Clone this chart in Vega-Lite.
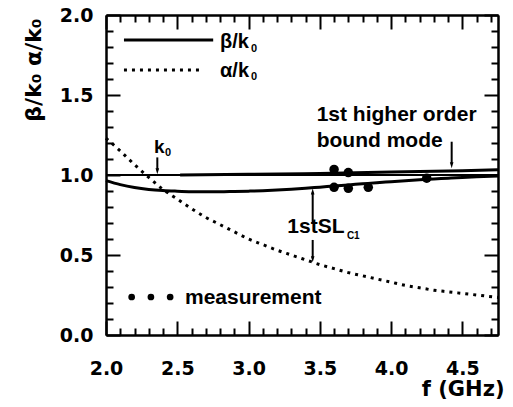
{
  "$schema": "https://vega.github.io/schema/vega-lite/v6.json",
  "width": 392,
  "height": 320,
  "autosize": "none",
  "padding": {"left": 106, "top": 15, "right": 15, "bottom": 72},
  "background": "white",
  "datasets": {
    "beta": [
      {"f": 2.0, "v": 0.965}, {"f": 2.1, "v": 0.94}, {"f": 2.2, "v": 0.922}, {"f": 2.3, "v": 0.91},
      {"f": 2.4, "v": 0.903}, {"f": 2.5, "v": 0.899}, {"f": 2.6, "v": 0.896}, {"f": 2.7, "v": 0.895},
      {"f": 2.8, "v": 0.895}, {"f": 2.9, "v": 0.897}, {"f": 3.0, "v": 0.899}, {"f": 3.1, "v": 0.902},
      {"f": 3.2, "v": 0.906}, {"f": 3.3, "v": 0.911}, {"f": 3.4, "v": 0.917}, {"f": 3.5, "v": 0.924},
      {"f": 3.6, "v": 0.931}, {"f": 3.7, "v": 0.938}, {"f": 3.8, "v": 0.945}, {"f": 3.9, "v": 0.952},
      {"f": 4.0, "v": 0.958}, {"f": 4.1, "v": 0.964}, {"f": 4.2, "v": 0.97}, {"f": 4.3, "v": 0.975},
      {"f": 4.4, "v": 0.98}, {"f": 4.5, "v": 0.985}, {"f": 4.6, "v": 0.989}, {"f": 4.75, "v": 0.994}
    ],
    "alpha": [
      {"f": 2.0, "v": 1.23}, {"f": 2.1, "v": 1.15}, {"f": 2.2, "v": 1.065}, {"f": 2.3, "v": 0.985},
      {"f": 2.4, "v": 0.91}, {"f": 2.5, "v": 0.85}, {"f": 2.6, "v": 0.79}, {"f": 2.7, "v": 0.735},
      {"f": 2.8, "v": 0.69}, {"f": 2.9, "v": 0.645}, {"f": 3.0, "v": 0.6}, {"f": 3.1, "v": 0.565},
      {"f": 3.2, "v": 0.53}, {"f": 3.3, "v": 0.5}, {"f": 3.4, "v": 0.47}, {"f": 3.5, "v": 0.44},
      {"f": 3.6, "v": 0.415}, {"f": 3.7, "v": 0.39}, {"f": 3.8, "v": 0.37}, {"f": 3.9, "v": 0.35},
      {"f": 4.0, "v": 0.33}, {"f": 4.1, "v": 0.31}, {"f": 4.2, "v": 0.295}, {"f": 4.3, "v": 0.28},
      {"f": 4.4, "v": 0.27}, {"f": 4.5, "v": 0.26}, {"f": 4.6, "v": 0.25}, {"f": 4.75, "v": 0.235}
    ],
    "bound": [
      {"f": 2.52, "v": 1.0}, {"f": 3.0, "v": 1.004}, {"f": 3.5, "v": 1.01},
      {"f": 4.0, "v": 1.018}, {"f": 4.5, "v": 1.027}, {"f": 4.75, "v": 1.033}
    ],
    "k0line": [{"f": 2.0, "v": 1.0}, {"f": 4.75, "v": 1.0}],
    "meas": [
      {"f": 3.6, "v": 1.035}, {"f": 3.7, "v": 1.015}, {"f": 3.6, "v": 0.923},
      {"f": 3.7, "v": 0.917}, {"f": 3.84, "v": 0.923}, {"f": 4.25, "v": 0.98}
    ]
  },
  "config": {
    "view": {"stroke": null},
    "axis": {
      "grid": false, "domainColor": "black", "domainWidth": 2, "tickColor": "black", "tickWidth": 2, "ticks": true,
      "labelColor": "black", "titleColor": "black", "labelFont": "DejaVu Sans", "labelFontWeight": "bold",
      "labelFontSize": 19, "titleFont": "DejaVu Sans", "titleFontWeight": "bold", "titleFontSize": 21,
      "labelAngle": 0, "labelFlush": false, "labelOverlap": false
    }
  },
  "resolve": {"axis": {"x": "independent", "y": "independent"}},
  "layer": [
    {
      "layer": [
        {
          "data": {"name": "beta"},
          "mark": {"type": "line", "color": "black", "strokeWidth": 3, "interpolate": "monotone"},
          "encoding": {
            "x": {"field": "f", "type": "quantitative",
              "scale": {"domain": [2, 4.75], "nice": false, "zero": false},
              "axis": {"orient": "bottom", "values": [2, 2.5, 3, 3.5, 4, 4.5], "format": ".1f", "tickSize": -14,
                "labelPadding": 38, "title": "f  (GHz)", "titleX": 398, "titleY": 60, "titleAlign": "right", "titleBaseline": "alphabetic"}},
            "y": {"field": "v", "type": "quantitative",
              "scale": {"domain": [0, 2], "nice": false, "zero": false},
              "axis": {"orient": "left", "values": [0, 0.5, 1, 1.5, 2], "format": ".1f", "tickSize": -14,
                "labelPadding": 27, "title": "β/k₀  α/k₀", "titleFontSize": 22, "titleX": -66, "titleY": 3, "titleAngle": -90, "titleAlign": "right", "titleBaseline": "alphabetic"}}
          }
        },
        {
          "data": {"name": "alpha"},
          "mark": {"type": "line", "color": "black", "strokeWidth": 3, "strokeDash": [3, 5], "strokeCap": "butt", "interpolate": "monotone"},
          "encoding": {"x": {"field": "f", "type": "quantitative"}, "y": {"field": "v", "type": "quantitative"}}
        },
        {
          "data": {"name": "bound"},
          "mark": {"type": "line", "color": "black", "strokeWidth": 3, "interpolate": "monotone"},
          "encoding": {"x": {"field": "f", "type": "quantitative"}, "y": {"field": "v", "type": "quantitative"}}
        },
        {
          "data": {"name": "meas"},
          "mark": {"type": "point", "filled": true, "color": "black", "opacity": 1, "size": 90},
          "encoding": {"x": {"field": "f", "type": "quantitative"}, "y": {"field": "v", "type": "quantitative"}}
        },
        {
          "data": {"values": [{"f": 2.18, "v": 0.2375}, {"f": 2.315, "v": 0.2375}, {"f": 2.45, "v": 0.2375}]},
          "mark": {"type": "point", "filled": true, "color": "black", "opacity": 1, "size": 45},
          "encoding": {"x": {"field": "f", "type": "quantitative"}, "y": {"field": "v", "type": "quantitative"}}
        },
        {
          "data": {"values": [{}]},
          "mark": {"type": "rule", "color": "black", "strokeWidth": 3},
          "encoding": {"x": {"datum": 2.126}, "x2": {"datum": 2.752}, "y": {"datum": 1.844}}
        },
        {
          "data": {"values": [{}]},
          "mark": {"type": "rule", "color": "black", "strokeWidth": 3, "strokeDash": [3, 5], "strokeCap": "butt"},
          "encoding": {"x": {"datum": 2.126}, "x2": {"datum": 2.68}, "y": {"datum": 1.656}}
        },
        {
          "data": {"values": [{}]},
          "mark": {"type": "text", "text": "β/k", "align": "left", "baseline": "alphabetic", "font": "Liberation Sans", "fontWeight": "bold", "fontSize": 20, "color": "black"},
          "encoding": {"x": {"datum": 2.8}, "y": {"datum": 1.794}}
        },
        {
          "data": {"values": [{}]},
          "mark": {"type": "text", "text": "0", "align": "left", "baseline": "alphabetic", "font": "Liberation Sans", "fontWeight": "bold", "fontSize": 11, "color": "black"},
          "encoding": {"x": {"datum": 3.017}, "y": {"datum": 1.769}}
        },
        {
          "data": {"values": [{}]},
          "mark": {"type": "text", "text": "α/k", "align": "left", "baseline": "alphabetic", "font": "Liberation Sans", "fontWeight": "bold", "fontSize": 20, "color": "black"},
          "encoding": {"x": {"datum": 2.8}, "y": {"datum": 1.6125}}
        },
        {
          "data": {"values": [{}]},
          "mark": {"type": "text", "text": "0", "align": "left", "baseline": "alphabetic", "font": "Liberation Sans", "fontWeight": "bold", "fontSize": 11, "color": "black"},
          "encoding": {"x": {"datum": 3.017}, "y": {"datum": 1.594}}
        },
        {
          "data": {"values": [{}]},
          "mark": {"type": "text", "text": "measurement", "align": "left", "baseline": "alphabetic", "font": "Liberation Sans", "fontWeight": "bold", "fontSize": 21, "color": "black"},
          "encoding": {"x": {"datum": 2.554}, "y": {"datum": 0.194}}
        },
        {
          "data": {"values": [{}]},
          "mark": {"type": "text", "text": "k", "align": "left", "baseline": "alphabetic", "font": "Liberation Sans", "fontWeight": "bold", "fontSize": 19, "color": "black"},
          "encoding": {"x": {"datum": 2.337}, "y": {"datum": 1.1375}}
        },
        {
          "data": {"values": [{}]},
          "mark": {"type": "text", "text": "0", "align": "left", "baseline": "alphabetic", "font": "Liberation Sans", "fontWeight": "bold", "fontSize": 11, "color": "black"},
          "encoding": {"x": {"datum": 2.414}, "y": {"datum": 1.119}}
        },
        {
          "data": {"values": [{}]},
          "mark": {"type": "text", "text": "1st higher order", "align": "left", "baseline": "alphabetic", "font": "Liberation Sans", "fontWeight": "bold", "fontSize": 21, "color": "black"},
          "encoding": {"x": {"datum": 3.478}, "y": {"datum": 1.3375}}
        },
        {
          "data": {"values": [{}]},
          "mark": {"type": "text", "text": "bound mode", "align": "left", "baseline": "alphabetic", "font": "Liberation Sans", "fontWeight": "bold", "fontSize": 21, "color": "black"},
          "encoding": {"x": {"datum": 3.478}, "y": {"datum": 1.177}}
        },
        {
          "data": {"values": [{}]},
          "mark": {"type": "text", "text": "1stSL", "align": "left", "baseline": "alphabetic", "font": "Liberation Sans", "fontWeight": "bold", "fontSize": 21, "color": "black"},
          "encoding": {"x": {"datum": 3.272}, "y": {"datum": 0.636}}
        },
        {
          "data": {"values": [{}]},
          "mark": {"type": "text", "text": "C1", "align": "left", "baseline": "alphabetic", "font": "Liberation Sans", "fontWeight": "bold", "fontSize": 10, "color": "black"},
          "encoding": {"x": {"datum": 3.69}, "y": {"datum": 0.6}}
        },
        {
          "data": {"values": [{"f": 2.36, "v": 1.11, "v2": 1.03}, {"f": 4.425, "v": 1.208, "v2": 1.07}, {"f": 3.45, "v": 0.7, "v2": 0.89}, {"f": 3.45, "v": 0.594, "v2": 0.48}]},
          "mark": {"type": "rule", "color": "black", "strokeWidth": 2},
          "encoding": {"x": {"field": "f", "type": "quantitative"}, "y": {"field": "v", "type": "quantitative"}, "y2": {"field": "v2"}}
        },
        {
          "data": {"values": [{"f": 2.36, "v": 1.005}, {"f": 4.425, "v": 1.042}, {"f": 3.45, "v": 0.455}]},
          "mark": {"type": "point", "filled": true, "color": "black", "opacity": 1, "size": 36, "shape": "M-0.6,-2L0.6,-2L0,0Z"},
          "encoding": {"x": {"field": "f", "type": "quantitative"}, "y": {"field": "v", "type": "quantitative"}}
        },
        {
          "data": {"values": [{"f": 3.45, "v": 0.915}]},
          "mark": {"type": "point", "filled": true, "color": "black", "opacity": 1, "size": 36, "shape": "M-0.6,2L0.6,2L0,0Z"},
          "encoding": {"x": {"field": "f", "type": "quantitative"}, "y": {"field": "v", "type": "quantitative"}}
        }
      ]
    },
    {
      "data": {"name": "k0line"},
      "mark": {"type": "line", "color": "black", "strokeWidth": 2},
      "encoding": {
        "x": {"field": "f", "type": "quantitative",
          "axis": {"orient": "bottom", "labels": false, "title": null, "tickSize": -7,
            "values": [2.1,2.2,2.3,2.4,2.6,2.7,2.8,2.9,3.1,3.2,3.3,3.4,3.6,3.7,3.8,3.9,4.1,4.2,4.3,4.4,4.6,4.7]}},
        "y": {"field": "v", "type": "quantitative",
          "axis": {"orient": "left", "labels": false, "title": null, "tickSize": -7,
            "values": [0.1,0.2,0.3,0.4,0.6,0.7,0.8,0.9,1.1,1.2,1.3,1.4,1.6,1.7,1.8,1.9]}}
      }
    },
    {
      "data": {"name": "k0line"},
      "mark": {"type": "line", "color": "black", "strokeWidth": 2, "strokeOpacity": 0},
      "encoding": {
        "x": {"field": "f", "type": "quantitative",
          "axis": {"orient": "top", "labels": false, "title": null, "tickSize": -14, "values": [2, 2.5, 3, 3.5, 4, 4.5]}},
        "y": {"field": "v", "type": "quantitative",
          "axis": {"orient": "right", "labels": false, "title": null, "tickSize": -14, "values": [0, 0.5, 1, 1.5, 2]}}
      }
    },
    {
      "data": {"name": "k0line"},
      "mark": {"type": "line", "color": "black", "strokeWidth": 2, "strokeOpacity": 0},
      "encoding": {
        "x": {"field": "f", "type": "quantitative",
          "axis": {"orient": "top", "labels": false, "title": null, "tickSize": -7,
            "values": [2.1,2.2,2.3,2.4,2.6,2.7,2.8,2.9,3.1,3.2,3.3,3.4,3.6,3.7,3.8,3.9,4.1,4.2,4.3,4.4,4.6,4.7]}},
        "y": {"field": "v", "type": "quantitative",
          "axis": {"orient": "right", "labels": false, "title": null, "tickSize": -7,
            "values": [0.1,0.2,0.3,0.4,0.6,0.7,0.8,0.9,1.1,1.2,1.3,1.4,1.6,1.7,1.8,1.9]}}
      }
    }
  ]
}
